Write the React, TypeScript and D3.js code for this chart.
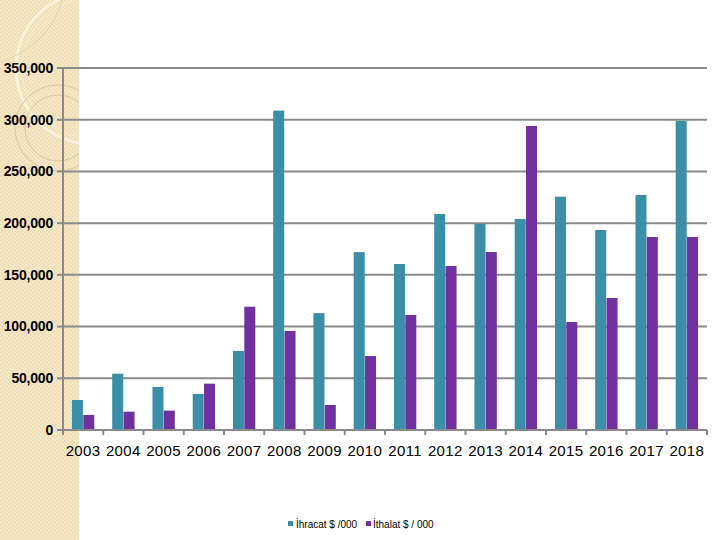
import React from "react";
import * as d3 from "d3";

const years = ["2003","2004","2005","2006","2007","2008","2009","2010","2011","2012","2013","2014","2015","2016","2017","2018"];
const ihracat = [29000,54400,41600,34800,76400,308800,113000,172000,160500,208900,199500,204000,225600,193400,227200,298800];
const ithalat = [14500,17700,18700,44800,119200,95700,24200,71500,111200,158600,172100,294000,104400,127600,186600,186600];
const seriesNames = ["İhracat $ /000", "İthalat $ / 000"];
const yTicks = [0,50000,100000,150000,200000,250000,300000,350000];

const W = 720, H = 540;
const left = 63, right = 707, top = 68, bottom = 430;
const colors = ["#3a8ea8", "#7030a0"];

export default function App() {
  const x = d3.scaleBand<string>().domain(years).range([left, right]).paddingInner(0).paddingOuter(0);
  const y = d3.scaleLinear().domain([0, 350000]).range([bottom, top]);
  const inner = d3.scaleBand<string>().domain(["a","b"]).range([0, x.bandwidth()]).paddingInner(0.03).paddingOuter(0.79);
  const fmt = d3.format(",");
  return (
    <svg width={W} height={H} style={{position:"absolute", left:0, top:0, background:"#fff"}}>
      <defs>
        <pattern id="tex" width="4" height="4" patternUnits="userSpaceOnUse">
          <rect width="4" height="4" fill="#f3e3be"/>
          <rect x="0" y="0" width="1" height="1" fill="#e9d5a8"/>
          <rect x="2" y="2" width="1" height="1" fill="#e9d5a8"/>
          <rect x="2" y="0" width="1" height="1" fill="#f8edd2"/>
          <rect x="0" y="2" width="1" height="1" fill="#f8edd2"/>
        </pattern>
        <clipPath id="panel"><rect x="0" y="0" width="79" height={H}/></clipPath>
      </defs>
      <rect x="0" y="0" width="79" height={H} fill="url(#tex)"/>
      <g clipPath="url(#panel)">
        <circle cx="92" cy="68" r="76" fill="none" stroke="#fbf3e0" strokeWidth="3" opacity="0.9"/>
        <circle cx="92" cy="68" r="70" fill="none" stroke="#fbf3e0" strokeWidth="1" opacity="0.5"/>
        <path d="M62,0 Q50,45 0,62" fill="none" stroke="#e5d2a8" strokeWidth="1"/>
        <circle cx="58" cy="128" r="43" fill="none" stroke="#dcc89d" strokeWidth="1"/>
        <circle cx="58" cy="128" r="33" fill="none" stroke="#dcc89d" strokeWidth="1"/>
      </g>
      {yTicks.map(t => (
        <g key={t}>
          {t > 0 && <line x1={left} x2={right} y1={y(t)} y2={y(t)} stroke="#8a8a8a" strokeWidth="2"/>}
          <line x1={left - 6} x2={left} y1={y(t)} y2={y(t)} stroke="#8a8a8a" strokeWidth="2"/>
          <text x={53} y={y(t)} dy="0.35em" textAnchor="end" fontFamily="Liberation Sans, Arial, sans-serif" fontWeight="bold" fontSize="14" letterSpacing="-0.2" fill="#000">{fmt(t)}</text>
        </g>
      ))}
      {years.map((yr, i) => (
        <g key={yr}>
          <rect x={(x(yr) as number) + (inner("a") as number)} y={y(ihracat[i])} width={inner.bandwidth()} height={bottom - y(ihracat[i])} fill={colors[0]}/>
          <rect x={(x(yr) as number) + (inner("b") as number)} y={y(ithalat[i])} width={inner.bandwidth()} height={bottom - y(ithalat[i])} fill={colors[1]}/>
          <text x={(x(yr) as number) + x.bandwidth() / 2} y={456} textAnchor="middle" fontFamily="Liberation Sans, Arial, sans-serif" fontSize="15" letterSpacing="0.4" fill="#000">{yr}</text>
        </g>
      ))}
      {[...years.map(yr => x(yr) as number), right].map((p, i) => (
        <line key={"t" + i} x1={p} x2={p} y1={bottom} y2={bottom + 5} stroke="#8a8a8a" strokeWidth="2"/>
      ))}
      <line x1={left} x2={left} y1={top} y2={bottom + 5} stroke="#8a8a8a" strokeWidth="2"/>
      <line x1={left} x2={right} y1={bottom} y2={bottom} stroke="#8a8a8a" strokeWidth="2"/>
      <g fontFamily="Liberation Sans, Arial, sans-serif" fontSize="10" fill="#000">
        <rect x={288} y={521} width={5} height={5} fill={colors[0]}/>
        <text x={296} y={528}>{seriesNames[0]}</text>
        <rect x={366} y={521} width={5} height={5} fill={colors[1]}/>
        <text x={373} y={528}>{seriesNames[1]}</text>
      </g>
    </svg>
  );
}
